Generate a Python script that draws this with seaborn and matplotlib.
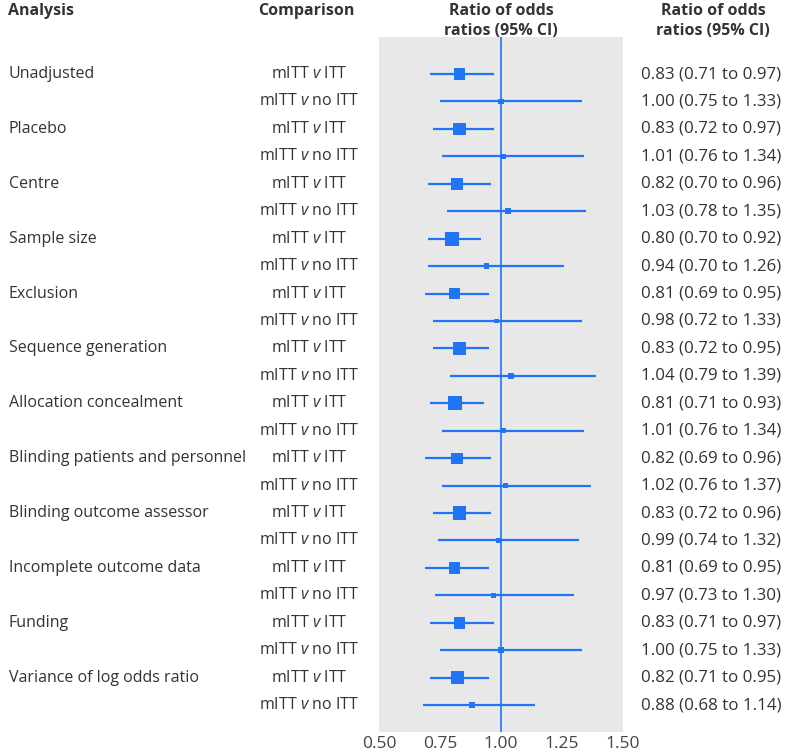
import numpy as np
import pandas as pd
import matplotlib
matplotlib.use("Agg")
import matplotlib.pyplot as plt
import matplotlib.transforms as mtransforms
import seaborn as sns

# data
analyses = [
    "Unadjusted", "Placebo", "Centre", "Sample size", "Exclusion",
    "Sequence generation", "Allocation concealment",
    "Blinding patients and personnel", "Blinding outcome assessor",
    "Incomplete outcome data", "Funding", "Variance of log odds ratio",
]
comparisons = ["mITT $\\mathit{v}$ ITT", "mITT $\\mathit{v}$ no ITT"]
ror_itt = [0.83, 0.83, 0.82, 0.80, 0.81, 0.83, 0.81, 0.82, 0.83, 0.81, 0.83, 0.82]
lo_itt = [0.71, 0.72, 0.70, 0.70, 0.69, 0.72, 0.71, 0.69, 0.72, 0.69, 0.71, 0.71]
hi_itt = [0.97, 0.97, 0.96, 0.92, 0.95, 0.95, 0.93, 0.96, 0.96, 0.95, 0.97, 0.95]
ror_noitt = [1.00, 1.01, 1.03, 0.94, 0.98, 1.04, 1.01, 1.02, 0.99, 0.97, 1.00, 0.88]
lo_noitt = [0.75, 0.76, 0.78, 0.70, 0.72, 0.79, 0.76, 0.76, 0.74, 0.73, 0.75, 0.68]
hi_noitt = [1.33, 1.34, 1.35, 1.26, 1.33, 1.39, 1.34, 1.37, 1.32, 1.30, 1.33, 1.14]
x_ticks = [0.50, 0.75, 1.00, 1.25, 1.50]

rows = []
for i, name in enumerate(analyses):
    rows.append((name, comparisons[0], ror_itt[i], lo_itt[i], hi_itt[i]))
    rows.append(("", comparisons[1], ror_noitt[i], lo_noitt[i], hi_noitt[i]))
df = pd.DataFrame(rows, columns=["analysis", "comparison", "ror", "lo", "hi"])
df["row"] = np.arange(len(df))
# inverse variance weight -> square area
se = (np.log(df["hi"]) - np.log(df["lo"])) / 3.92
df["weight"] = 1 / se ** 2

blue = "#1f75f5"
txt = "#333333"
font = ["Open Sans", "DejaVu Sans"]

sns.set_theme(style="white")
plt.rcParams["font.family"] = font
plt.rcParams["mathtext.fontset"] = "custom"
plt.rcParams["mathtext.rm"] = "Open Sans"
plt.rcParams["mathtext.it"] = "Open Sans:italic"

fig = plt.figure(figsize=(7.9, 7.55), dpi=100)
ax = fig.add_axes([0.4797, 0.0305, 0.3089, 0.9205])
ax.set_facecolor("#e8e8e8")

ax.hlines(df["row"], df["lo"], df["hi"], color=blue, lw=1.6, zorder=2)
ax.axvline(1.0, color=blue, lw=1.2, zorder=1)
sns.scatterplot(data=df, x="ror", y="row", size="weight", sizes=(11.8, 107.5),
                size_norm=(40, 220), marker="s", color=blue,
                edgecolor="none", legend=False, ax=ax, zorder=3)

n = len(df)
ax.set_ylim(n - 1 + 0.98, -1.35)
ax.set_xlim(0.5, 1.5)
ax.set_xticks(x_ticks)
ax.set_xticklabels([f"{t:.2f}" for t in x_ticks], fontsize=12.5, color="#444444")
ax.tick_params(axis="x", length=0, pad=3)
ax.set_yticks([])
ax.set_xlabel("")
ax.set_ylabel("")
for s in ax.spines.values():
    s.set_visible(False)

# text columns
tr = mtransforms.blended_transform_factory(fig.transFigure, ax.transData)
for _, r in df.iterrows():
    y = r["row"]
    if r["analysis"]:
        ax.text(9 / 790, y, r["analysis"], transform=tr,
                ha="left", va="center", fontsize=11.5, color=txt)
    ax.text(309 / 790, y, r["comparison"], transform=tr,
            ha="center", va="center", fontsize=11.5, color=txt)
    ax.text(641 / 790, y, f"{r['ror']:.2f} ({r['lo']:.2f} to {r['hi']:.2f})",
            transform=tr, ha="left", va="center", fontsize=12.2, color=txt)

# headers
hdr = dict(fontsize=11.5, fontweight="bold", color=txt, va="top")
fig.text(8 / 790, 1 - 3 / 755, "Analysis", ha="left", **hdr)
fig.text(306 / 790, 1 - 3 / 755, "Comparison", ha="center", **hdr)
fig.text(501 / 790, 1 - 3 / 755, "Ratio of odds\nratios (95% CI)", ha="center", linespacing=1.35, **hdr)
fig.text(713 / 790, 1 - 3 / 755, "Ratio of odds\nratios (95% CI)", ha="center", linespacing=1.35, **hdr)

fig.savefig("out.png", dpi=100)
